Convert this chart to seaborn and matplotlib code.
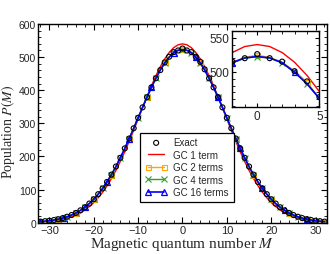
import matplotlib
matplotlib.use("Agg")
import matplotlib.pyplot as plt
import seaborn as sns
from matplotlib.ticker import MultipleLocator, FixedLocator

# magnetic quantum number M = -32 ... 32
m_values = list(range(-32, 33))

p_exact = [3.1, 4.3, 5.8, 7.8, 10.4, 13.6, 17.8, 22.9, 29.3, 37.1, 46.4, 57.6, 70.6,
           85.9, 103.3, 123.0, 145.1, 169.5, 195.9, 224.3, 254.1, 285.1, 316.6, 348.2,
           379.0, 408.6, 436.0, 460.7, 484.0, 501.0, 515.0, 520.0, 526.0, 520.0, 515.0,
           501.0, 486.0, 463.0, 436.0, 408.6, 379.0, 348.2, 316.6, 285.1, 254.1, 224.3,
           195.9, 169.5, 145.1, 123.0, 103.3, 85.9, 70.6, 57.6, 46.4, 37.1, 29.3, 22.9,
           17.8, 13.6, 10.4, 7.8, 5.8, 4.3, 3.1]

p_gc1 = [2.0, 2.8, 3.9, 5.4, 7.4, 10.1, 13.4, 17.8, 23.2, 30.0, 38.3, 48.5, 60.7,
         75.1, 92.0, 111.3, 133.3, 157.9, 185.1, 214.5, 245.9, 278.7, 312.7, 346.9,
         380.6, 413.2, 443.6, 471.0, 494.8, 514.1, 528.3, 537.1, 540.0, 537.1, 528.3,
         514.1, 494.8, 471.0, 443.6, 413.2, 380.6, 346.9, 312.7, 278.7, 245.9, 214.5,
         185.1, 157.9, 133.3, 111.3, 92.0, 75.1, 60.7, 48.5, 38.3, 30.0, 23.2, 17.8,
         13.4, 10.1, 7.4, 5.4, 3.9, 2.8, 2.0]

p_gc2 = [3.0, 4.2, 5.7, 7.7, 10.3, 13.6, 17.8, 22.9, 29.3, 37.1, 46.4, 57.6, 70.6,
         85.9, 103.3, 123.0, 145.1, 169.5, 195.9, 224.3, 254.1, 285.1, 316.6, 348.2,
         379.0, 408.6, 436.0, 461.0, 485.0, 501.5, 514.0, 521.0, 524.5, 521.0, 514.0,
         501.5, 485.0, 461.0, 436.0, 408.6, 379.0, 348.2, 316.6, 285.1, 254.1, 224.3,
         195.9, 169.5, 145.1, 123.0, 103.3, 85.9, 70.6, 57.6, 46.4, 37.1, 29.3, 22.9,
         17.8, 13.6, 10.3, 7.7, 5.7, 4.2, 3.0]

p_gc4 = [3.1, 4.3, 5.8, 7.8, 10.4, 13.6, 17.8, 22.9, 29.3, 37.1, 46.4, 57.6, 70.6,
         85.9, 103.3, 123.0, 145.1, 169.5, 195.9, 224.3, 254.1, 285.1, 316.6, 348.2,
         379.0, 408.6, 436.0, 461.0, 482.5, 499.5, 513.0, 520.0, 522.0, 520.0, 513.0,
         499.5, 482.5, 461.0, 436.0, 408.6, 379.0, 348.2, 316.6, 285.1, 254.1, 224.3,
         195.9, 169.5, 145.1, 123.0, 103.3, 85.9, 70.6, 57.6, 46.4, 37.1, 29.3, 22.9,
         17.8, 13.6, 10.4, 7.8, 5.8, 4.3, 3.1]

p_gc16 = [3.1, 4.3, 5.8, 7.8, 10.4, 13.6, 17.8, 22.9, 29.3, 37.1, 46.4, 57.6, 70.6,
          85.9, 103.3, 123.0, 145.1, 169.5, 195.9, 224.3, 254.1, 285.1, 316.6, 348.2,
          379.0, 408.6, 436.0, 461.0, 482.5, 499.5, 513.5, 520.5, 522.5, 520.5, 513.5,
          499.5, 482.5, 461.0, 436.0, 408.6, 379.0, 348.2, 316.6, 285.1, 254.1, 224.3,
          195.9, 169.5, 145.1, 123.0, 103.3, 85.9, 70.6, 57.6, 46.4, 37.1, 29.3, 22.9,
          17.8, 13.6, 10.4, 7.8, 5.8, 4.3, 3.1]

sns.set_theme(style="ticks")
plt.rcParams["font.family"] = ["Liberation Sans", "DejaVu Sans"]
plt.rcParams["mathtext.fontset"] = "stix"

RED = "#ff0000"
ORANGE = "#ffa500"
GREEN = "#2e9e2e"
BLUE = "#0000ff"


def draw(ax):
    sns.lineplot(x=m_values, y=p_gc1, color=RED, lw=1.0, ax=ax, label="GC 1 term")
    sns.lineplot(x=m_values, y=p_gc2, color=ORANGE, lw=1.0, marker="s", ms=3.6,
                 mfc="none", mec=ORANGE, mew=0.8, markevery=(0, 4), ax=ax,
                 label="GC 2 terms")
    sns.lineplot(x=m_values, y=p_gc4, color=GREEN, lw=1.0, marker="x", ms=4,
                 mec=GREEN, mew=0.8, markevery=(0, 2), ax=ax, label="GC 4 terms")
    sns.lineplot(x=m_values, y=p_gc16, color=BLUE, lw=1.2, marker="^", ms=4.5,
                 mfc="none", mec=BLUE, mew=0.9, markevery=(0, 5), ax=ax,
                 label="GC 16 terms")
    sns.scatterplot(x=m_values, y=p_exact, marker="o", s=13, facecolor="none",
                    edgecolor="black", linewidth=0.8, ax=ax, label="Exact", zorder=5)


def style_axes(ax, size):
    for sp in ax.spines.values():
        sp.set_visible(True)
        sp.set_linewidth(1.0)
        sp.set_color("black")
    ax.tick_params(which="both", direction="in", top=True, right=True,
                   labelsize=size, pad=2, color="black")
    ax.tick_params(which="major", length=4, width=0.8)
    ax.tick_params(which="minor", length=2, width=0.6)


fig = plt.figure(figsize=(3.3, 2.55), dpi=100)
ax = fig.add_axes([0.116, 0.123, 0.874, 0.779])
draw(ax)
ax.set_xlim(-32.5, 32.5)
ax.set_ylim(0, 600)
ax.xaxis.set_major_locator(MultipleLocator(10))
ax.xaxis.set_minor_locator(MultipleLocator(2))
ax.yaxis.set_major_locator(MultipleLocator(100))
ax.yaxis.set_minor_locator(MultipleLocator(20))
style_axes(ax, 8)
ax.tick_params(axis="y", labelsize=7.5, pad=1.5)
ax.set_xlabel("Magnetic quantum number $M$", family="Liberation Serif",
              fontsize=11, labelpad=0)
ax.set_ylabel("Population $P(M)$", family="Liberation Serif", fontsize=10)
ax.yaxis.set_label_coords(-0.074, 0.46)

handles, labels = ax.get_legend_handles_labels()
order = [labels.index(l) for l in
         ["Exact", "GC 1 term", "GC 2 terms", "GC 4 terms", "GC 16 terms"]]
leg = ax.legend([handles[i] for i in order], [labels[i] for i in order],
                loc="lower left", bbox_to_anchor=(0.353, 0.104), borderaxespad=0,
                fontsize=7, frameon=True, fancybox=False, numpoints=2,
                handlelength=2.3, handletextpad=0.6, labelspacing=0.25,
                borderpad=0.5, scatterpoints=1)
leg.get_frame().set_edgecolor("black")
leg.get_frame().set_linewidth(0.9)
leg.get_frame().set_alpha(1)

# inset
axin = fig.add_axes([0.704, 0.575, 0.264, 0.300])
draw(axin)
axin.set_xlim(-2, 5)
axin.set_ylim(448, 560)
axin.xaxis.set_major_locator(MultipleLocator(5))
axin.xaxis.set_minor_locator(MultipleLocator(1))
axin.yaxis.set_major_locator(FixedLocator([500, 550]))
axin.yaxis.set_minor_locator(MultipleLocator(10))
style_axes(axin, 8.5)
axin.tick_params(which="major", length=3)
axin.tick_params(which="minor", length=2)
axin.set_xlabel("")
axin.set_ylabel("")
if axin.get_legend() is not None:
    axin.get_legend().remove()

fig.savefig("out.png", dpi=100)
